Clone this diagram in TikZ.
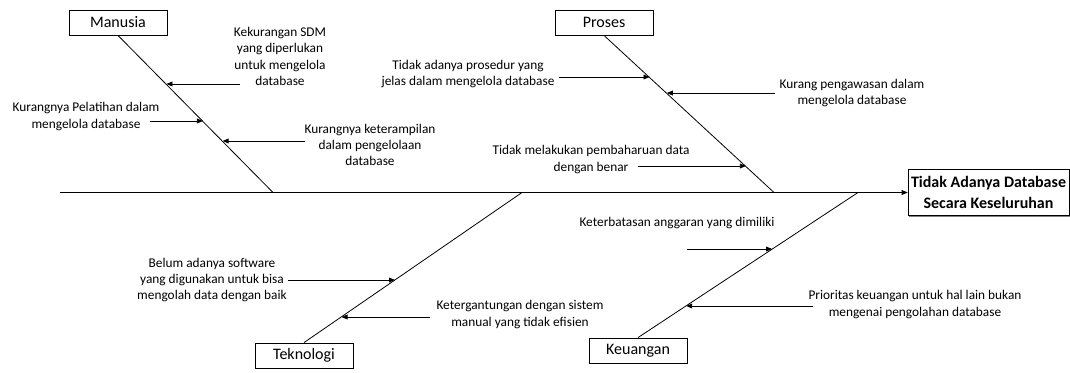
\documentclass[tikz,border=0pt]{standalone}
\usepackage{fontspec}
\setmainfont{Carlito}
\usetikzlibrary{arrows.meta,shadows}
\tikzset{
  category/.style={draw,fill=white,font=\fontsize{12}{14}\selectfont,
    minimum width=73.5pt,minimum height=19pt,inner sep=0pt,
    drop shadow={shadow xshift=0.8pt,shadow yshift=-0.8pt,fill=black!50,opacity=1}},
  effect/.style={draw,fill=white,font=\fontsize{12}{15.5}\selectfont\bfseries,
    align=center,minimum width=120.75pt,minimum height=34.5pt,inner sep=0pt,
    drop shadow={shadow xshift=0.8pt,shadow yshift=-0.8pt,fill=black!50,opacity=1}},
  cause/.style={align=center,inner sep=0pt,font=\fontsize{10}{12.2}\selectfont},
  bone/.style={line width=0.6pt},
  feed/.style={line width=0.6pt,-{Triangle[length=4.5pt,width=3.6pt]}},
}
\begin{document}
\begin{tikzpicture}[x=0.75pt,y=-0.75pt]
  \useasboundingbox (0,0) rectangle (1070,372);

  % kategori dan akibat
  \node[category] (manusia) at (118,22.5) {Manusia};
  \node[category] (proses) at (604,22.5) {Proses};
  \node[category] (teknologi) at (304,355.5) {Teknologi};
  \node[category] (keuangan) at (638,350.5) {Keuangan};
  \node[effect] (masalah) at (988.5,192.5) {Tidak Adanya Database\\Secara Keseluruhan};

  % tulang utama
  \coordinate (ekor) at (60,192.5);
  \draw[feed] (ekor) -- (masalah.west);

  % tulang kategori
  \coordinate (mS) at (273,192.5);
  \coordinate (pS) at (774,192.5);
  \coordinate (tS) at (522,192.5);
  \coordinate (kS) at (858,192.5);
  \draw[bone] (manusia.south) -- (mS);
  \draw[bone] (proses.south) -- (pS);
  \draw[bone] (teknologi.north) -- (tS);
  \draw[bone] (keuangan.north) -- (kS);

  % penyebab
  \node[cause] (m1) at (280,56.5) {Kekurangan SDM\\yang diperlukan\\untuk mengelola\\database};
  \node[cause] (m2) at (86,116.5) {Kurangnya Pelatihan dalam\\mengelola database};
  \node[cause] (m3) at (370,145) {Kurangnya keterampilan\\dalam pengelolaan\\database};
  \node[cause] (p1) at (468,74) {Tidak adanya prosedur yang\\jelas dalam mengelola database};
  \node[cause] (p2) at (852,93) {Kurang pengawasan dalam\\mengelola database};
  \node[cause] (p3) at (591,159.5) {Tidak melakukan pembaharuan data\\dengan benar};
  \node[cause] (t1) at (212,280) {Belum adanya software\\yang digunakan untuk bisa\\mengolah data dengan baik};
  \node[cause] (t2) at (520,314.5) {Ketergantungan dengan sistem\\manual yang tidak efisien};
  \node[cause] (k1) at (677,223) {Keterbatasan anggaran yang dimiliki};
  \node[cause] (k2) at (915,304.5) {Prioritas keuangan untuk hal lain bukan\\mengenai pengolahan database};

  % panah penyebab ke tulang
  \foreach \n/\xa/\xb/\y in {m1/240/166.4/84, m2/150/202.9/121, m3/305/222.6/141,
      p1/559/649.5/77, p2/775/666.8/93, p3/638/745.9/166,
      t1/288/395/280, t2/430/341.5/317,
      k1/687/772.1/249, k2/813/686.2/306} {
    \coordinate (\n a) at (\xa,\y);
    \coordinate (\n b) at (\xb,\y);
    \draw[feed] (\n a) -- (\n b);
  }
\end{tikzpicture}
\end{document}
